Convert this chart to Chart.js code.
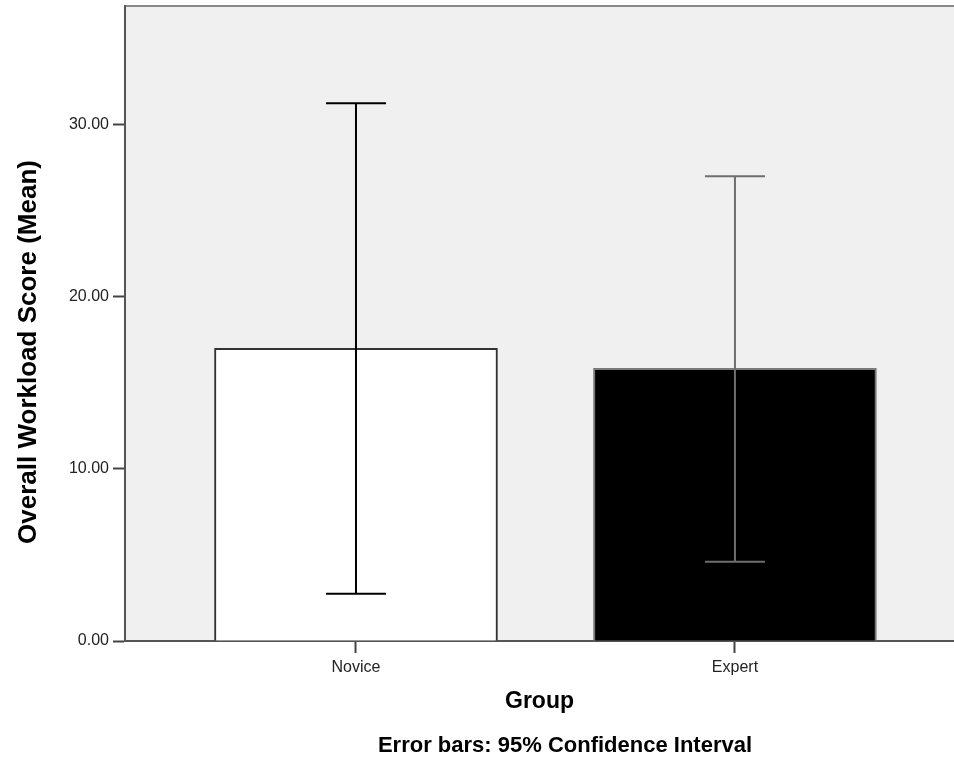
<!DOCTYPE html>
<html>
<head>
<meta charset="utf-8">
<script src="https://cdn.jsdelivr.net/npm/chart.js@4/dist/chart.umd.min.js"></script>
<style>
  html, body { margin: 0; padding: 0; background: #fff; }
  #wrap { width: 954px; height: 760px; }
</style>
</head>
<body>
<div id="wrap"><canvas id="chart"></canvas></div>
<script>
  // values
  const groups = ['Novice', 'Expert'];
  const meanScores = [17.0, 15.85];
  const ciLower = [2.75, 4.6];
  const ciUpper = [31.25, 27.0];
  const yTicks = [0, 10, 20, 30];

  const FONT = '"Liberation Sans", Arial, sans-serif';

  const plotBackground = {
    id: 'plotBackground',
    beforeDraw(chart) {
      const { ctx, chartArea: a } = chart;
      ctx.save();
      ctx.fillStyle = '#f0f0f0';
      ctx.fillRect(a.left, a.top, a.right - a.left, a.bottom - a.top);
      ctx.strokeStyle = '#8a8a8a';
      ctx.lineWidth = 2;
      ctx.beginPath();
      ctx.moveTo(a.left, a.top);
      ctx.lineTo(a.right, a.top);
      ctx.stroke();
      ctx.restore();
    }
  };

  const errorBars = {
    id: 'errorBars',
    afterDatasetsDraw(chart) {
      const { ctx, scales: { x, y } } = chart;
      const colors = ['#000000', '#6e6e6e'];
      ctx.save();
      ctx.lineWidth = 2;
      groups.forEach((g, i) => {
        const px = x.getPixelForValue(i + 1);
        const top = y.getPixelForValue(ciUpper[i]);
        const bottom = y.getPixelForValue(ciLower[i]);
        ctx.strokeStyle = colors[i];
        ctx.beginPath();
        ctx.moveTo(px, top);
        ctx.lineTo(px, bottom);
        ctx.moveTo(px - 30, top);
        ctx.lineTo(px + 30, top);
        ctx.moveTo(px - 30, bottom);
        ctx.lineTo(px + 30, bottom);
        ctx.stroke();
      });
      ctx.restore();
    }
  };

  // y title and footnote, placed like the SPSS output
  const texts = {
    id: 'texts',
    afterDraw(chart) {
      const { ctx } = chart;
      ctx.save();
      ctx.fillStyle = '#000';
      ctx.textAlign = 'center';
      ctx.textBaseline = 'middle';
      ctx.font = 'bold 22px ' + FONT;
      ctx.fillText('Error bars: 95% Confidence Interval', 565, 746);
      ctx.translate(29, 352);
      ctx.rotate(-Math.PI / 2);
      ctx.font = 'bold 26px ' + FONT;
      ctx.fillText('Overall Workload Score (Mean)', 0, 0);
      ctx.restore();
    }
  };

  new Chart(document.getElementById('chart'), {
    type: 'bar',
    data: {
      datasets: [{
        data: groups.map((g, i) => ({ x: i + 1, y: meanScores[i] })),
        backgroundColor: ['#ffffff', '#000000'],
        borderColor: ['#333333', '#7a7a7a'],
        borderWidth: 2,
        barThickness: 283
      }]
    },
    options: {
      responsive: true,
      maintainAspectRatio: false,
      animation: false,
      layout: { padding: { top: 6, right: 0, bottom: 0, left: 0 } },
      plugins: {
        legend: { display: false },
        tooltip: { enabled: false }
      },
      scales: {
        x: {
          type: 'linear',
          offset: false,
          min: 0.3905,
          max: 2.578,
          afterBuildTicks(scale) {
            scale.ticks = groups.map((g, i) => ({ value: i + 1 }));
          },
          afterFit(scale) {
            scale.height = 119;
          },
          ticks: {
            callback: (v) => groups[Math.round(v) - 1] || '',
            color: '#222',
            font: { family: FONT, size: 16 },
            padding: 5,
            maxRotation: 0
          },
          grid: {
            offset: false,
            drawOnChartArea: false,
            tickLength: 12,
            tickColor: '#444',
            tickWidth: 2
          },
          border: { color: '#555', width: 2 },
          title: {
            display: true,
            text: 'Group',
            color: '#000',
            font: { family: FONT, size: 23, weight: 'bold' },
            padding: { top: 0, bottom: 45 }
          }
        },
        y: {
          min: 0,
          max: 36.9,
          afterBuildTicks(scale) {
            scale.ticks = yTicks.map((v) => ({ value: v }));
          },
          afterFit(scale) {
            scale.width = 125;
            scale.paddingTop = 0;
            scale.paddingBottom = 0;
          },
          ticks: {
            callback: (v) => Number(v).toFixed(2),
            color: '#222',
            font: { family: FONT, size: 16 },
            padding: 4
          },
          grid: {
            drawOnChartArea: false,
            tickLength: 12,
            tickColor: '#444',
            tickWidth: 2
          },
          border: { color: '#555', width: 2 }
        }
      }
    },
    plugins: [plotBackground, errorBars, texts]
  });
</script>
</body>
</html>
